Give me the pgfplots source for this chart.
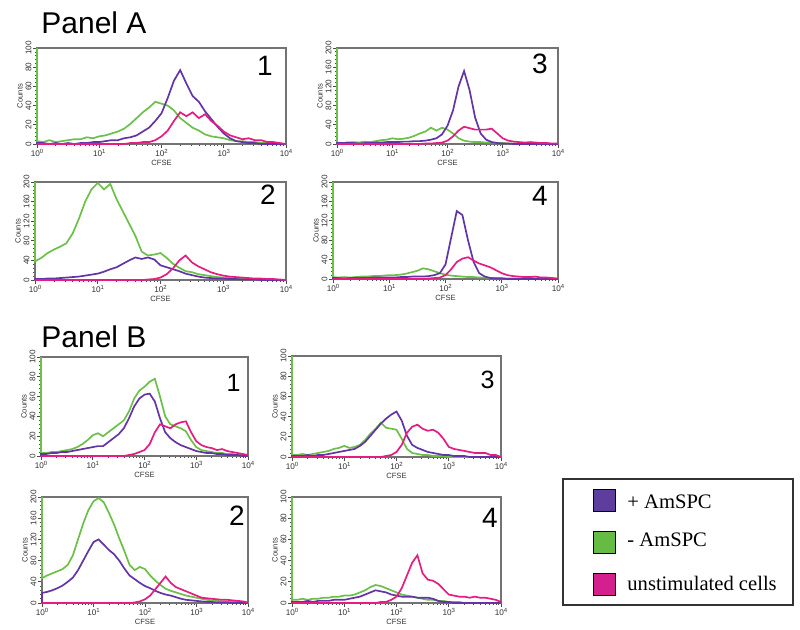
\documentclass[border=0pt]{standalone}
\usepackage{pgfplots}
\pgfplotsset{compat=1.18}
\usepackage{pgfplotstable}
\usepackage{fontspec}
\setmainfont{Liberation Sans}
\newfontfamily\legfont{Liberation Serif}
\definecolor{cpur}{RGB}{98,52,168}
\definecolor{cgrn}{RGB}{108,192,74}
\definecolor{cmag}{RGB}{230,28,128}
\definecolor{lpur}{RGB}{94,61,158}
\definecolor{lgrn}{RGB}{102,187,68}
\definecolor{lmag}{RGB}{212,31,143}
\newcommand\dec[1]{10\raisebox{1.5pt}{\fontsize{3}{3.2}\selectfont #1}}

% columns: e = log10(CFSE channel), p = +AmSPC, g = -AmSPC, m = unstimulated
\pgfplotstableread{
e   p    g    m
0.0 0    100  0
0.0 1    3    0
0.1 1    2    0
0.2 0    4    0
0.3 1    2    0
0.4 0    3    0
0.5 1    4    0
0.6 0    5    0
0.7 1    5    0
0.8 1    7    0
0.9 2    6    0
1.0 2    8    0
1.1 3    9    0
1.2 4    11   0
1.3 4    13   0
1.4 6    16   0
1.5 7    21   1
1.6 9    27   1
1.7 13   33   2
1.8 17   38   2
1.9 24   44   4
2.0 32   42   8
2.1 48   40   14
2.2 66   35   24
2.3 77   27   33
2.4 63   22   29
2.5 50   17   33
2.6 44   14   27
2.7 34   10   31
2.8 26   8    24
2.9 18   7    19
3.0 11   6    13
3.1 6    4    9
3.2 3    3    7
3.3 2    3    5
3.4 1    2    6
3.5 1    2    4
3.6 0    1    4
3.7 0    1    2
3.8 0    1    2
3.9 0    0    1
4.0 0    0    0
}\tAone

\pgfplotstableread{
e   p    g    m
0.0 0    200  0
0.0 2    3    0
0.1 2    2    0
0.2 3    3    0
0.3 2    4    0
0.4 1    3    0
0.5 2    5    0
0.6 2    4    0
0.7 3    6    0
0.8 3    8    0
0.9 4    9    0
1.0 4    12   0
1.1 4    10   0
1.2 5    11   0
1.3 5    13   0
1.4 6    17   0
1.5 6    22   0
1.6 7    26   1
1.7 9    34   1
1.8 12   28   2
1.9 20   34   3
2.0 38   30   7
2.1 70   22   16
2.2 120  12   28
2.3 152  7    36
2.4 112  5    33
2.5 55   4    30
2.6 22   4    30
2.7 9    3    30
2.8 4    3    32
2.9 2    2    22
3.0 1    2    12
3.1 1    1    7
3.2 0    1    5
3.3 0    1    4
3.4 0    0    3
3.5 0    0    4
3.6 0    0    3
3.7 0    0    2
3.8 0    0    2
3.9 0    0    1
4.0 0    0    1
}\tAthree

\pgfplotstableread{
e   p    g    m
0.0 0    200  0
0.0 2    38   0
0.1 2    45   0
0.2 3    55   0
0.3 3    62   0
0.4 4    68   0
0.5 5    75   0
0.6 6    95   0
0.7 7    125  0
0.8 9    160  0
0.9 11   185  0
1.0 13   198  0
1.1 17   185  0
1.2 22   196  0
1.3 26   165  0
1.4 33   140  0
1.5 40   115  0
1.6 46   90   0
1.7 43   58   0
1.8 46   50   1
1.9 42   52   2
2.0 30   55   5
2.1 26   45   12
2.2 22   33   24
2.3 18   25   40
2.4 13   18   50
2.5 10   16   36
2.6 7    12   28
2.7 5    10   22
2.8 4    8    16
2.9 3    6    12
3.0 3    5    9
3.1 2    4    7
3.2 2    3    6
3.3 1    3    5
3.4 1    2    4
3.5 1    2    3
3.6 0    1    3
3.7 0    1    2
3.8 0    1    2
3.9 0    0    1
4.0 0    0    0
}\tAtwo

\pgfplotstableread{
e   p    g    m
0.0 0    200  0
0.0 2    4    0
0.1 2    3    0
0.2 1    4    0
0.3 2    3    0
0.4 2    4    0
0.5 2    5    0
0.6 2    5    0
0.7 3    6    0
0.8 3    6    0
0.9 3    7    0
1.0 3    8    0
1.1 3    8    0
1.2 4    9    0
1.3 4    11   0
1.4 5    14   0
1.5 5    17   0
1.6 5    22   0
1.7 6    20   1
1.8 8    16   2
1.9 12   12   3
2.0 30   9    8
2.1 85   7    20
2.2 140  6    35
2.3 132  5    42
2.4 80   4    45
2.5 35   4    38
2.6 12   3    32
2.7 5    3    28
2.8 2    2    24
2.9 1    2    18
3.0 1    2    12
3.1 0    1    8
3.2 0    1    6
3.3 0    1    5
3.4 0    1    4
3.5 0    1    4
3.6 0    1    5
3.7 0    1    3
3.8 0    0    3
3.9 0    0    2
4.0 0    0    1
}\tAfour

\pgfplotstableread{
e   p    g    m
0.0 0    100  0
0.0 2    3    0
0.1 2    3    0
0.2 3    4    0
0.3 3    4    0
0.4 4    5    0
0.5 4    6    0
0.6 5    7    0
0.7 6    9    0
0.8 7    12   0
0.9 8    16   0
1.0 9    21   0
1.1 10   23   0
1.2 10   20   0
1.3 14   24   0
1.4 18   28   0
1.5 22   32   0
1.6 28   36   0
1.7 38   45   1
1.8 50   58   2
1.9 58   66   4
2.0 62   70   6
2.1 63   75   12
2.2 55   78   24
2.3 38   60   32
2.4 24   40   30
2.5 18   32   28
2.6 14   30   32
2.7 11   28   34
2.8 9    25   35
2.9 7    16   24
3.0 5    9    15
3.1 4    6    11
3.2 3    5    9
3.3 3    4    8
3.4 2    3    6
3.5 2    3    7
3.6 1    2    5
3.7 1    2    4
3.8 1    1    3
3.9 0    1    2
4.0 0    0    1
}\tBone

\pgfplotstableread{
e   p    g    m
0.0 0    100  0
0.0 1    2    0
0.1 1    2    0
0.2 1    3    0
0.3 2    2    0
0.4 1    3    0
0.5 2    4    0
0.6 2    5    0
0.7 3    6    0
0.8 4    8    0
0.9 5    9    0
1.0 6    11   0
1.1 7    9    0
1.2 8    10   0
1.3 11   12   0
1.4 15   17   0
1.5 21   23   0
1.6 27   28   0
1.7 33   34   0
1.8 38   29   1
1.9 42   28   2
2.0 45   27   5
2.1 36   18   12
2.2 21   8    24
2.3 12   4    30
2.4 9    3    32
2.5 7    2    28
2.6 5    2    26
2.7 4    1    27
2.8 3    1    24
2.9 2    1    18
3.0 2    0    10
3.1 1    0    8
3.2 1    0    7
3.3 1    0    6
3.4 0    0    5
3.5 0    0    4
3.6 0    0    4
3.7 0    0    4
3.8 0    0    2
3.9 0    0    2
4.0 0    0    0
}\tBthree

\pgfplotstableread{
e   p    g    m
0.0 0    200  0
0.0 19   47   0
0.1 21   52   0
0.2 24   56   0
0.3 28   60   0
0.4 33   64   0
0.5 40   72   0
0.6 48   90   0
0.7 62   120  0
0.8 80   150  0
0.9 98   175  0
1.0 115  192  0
1.1 120  198  0
1.2 110  190  0
1.3 100  170  0
1.4 92   148  0
1.5 80   122  0
1.6 65   98   0
1.7 52   72   0
1.8 45   62   1
1.9 38   68   3
2.0 32   64   7
2.1 28   52   14
2.2 23   42   26
2.3 19   34   38
2.4 16   27   50
2.5 14   23   38
2.6 11   20   30
2.7 8    17   26
2.8 6    14   22
2.9 5    12   18
3.0 4    10   14
3.1 3    8    10
3.2 2    6    9
3.3 2    5    8
3.4 1    4    7
3.5 1    3    6
3.6 1    3    6
3.7 0    2    5
3.8 0    2    4
3.9 0    1    3
4.0 0    0    1
}\tBtwo

\pgfplotstableread{
e   p    g    m
0.0 0    100  0
0.0 1    3    0
0.1 1    3    0
0.2 1    4    0
0.3 2    3    0
0.4 1    4    0
0.5 2    4    0
0.6 2    5    0
0.7 2    5    0
0.8 3    6    0
0.9 3    6    0
1.0 3    7    0
1.1 4    7    0
1.2 5    8    0
1.3 6    10   0
1.4 8    12   0
1.5 10   15   0
1.6 12   17   0
1.7 11   16   1
1.8 10   14   1
1.9 8    12   3
2.0 7    10   6
2.1 6    8    14
2.2 6    7    26
2.3 6    6    38
2.4 5    5    45
2.5 5    4    28
2.6 5    3    22
2.7 4    3    21
2.8 2    2    18
2.9 1    2    13
3.0 1    1    8
3.1 0    1    7
3.2 0    1    6
3.3 0    0    6
3.4 0    0    5
3.5 0    0    6
3.6 0    0    5
3.7 0    0    5
3.8 0    0    4
3.9 0    0    3
4.0 0    0    1
}\tBfour

\pgfplotsset{facs/.style={
  xmin=1, xmax=10000, ymin=0,
  scale only axis, clip=false,
  /pgf/number format/assume math mode=true,
  axis line style={draw=black!55, line width=0.6pt},
  tick pos=left,
  tick align=outside, major tick length=1.8pt, minor tick length=1.1pt,
  tick style={black!70, line width=0.35pt},
  xtick={1,10,100,1000,10000},
  xticklabels={\dec{0},\dec{1},\dec{2},\dec{3},\dec{4}},
  tick label style={font=\fontsize{4.1}{4.5}\selectfont, inner sep=0.8pt, text=black!80},
  yticklabel style={rotate=90, anchor=south},
  label style={font=\fontsize{3.8}{4.2}\selectfont, inner sep=0.5pt, text=black!80},
  xlabel={CFSE}, ylabel={Counts},
  minor y tick num=4,
}}
\newcommand\facsplots[1]{%
  \addplot[cgrn, line width=0.85pt] table[x expr={10^\thisrow{e}}, y=g]{#1};
  \addplot[cpur, line width=0.85pt] table[x expr={10^\thisrow{e}}, y=p]{#1};
  \addplot[cmag, line width=0.85pt] table[x expr={10^\thisrow{e}}, y=m]{#1};
}

\begin{document}
\begin{tikzpicture}
\useasboundingbox (0,0) rectangle (400pt,-314.5pt);

% Panel titles
\node[anchor=base west, inner sep=0, font=\fontsize{15}{16}\selectfont] at (20.5pt,-16.75pt) {Panel A};
\node[anchor=base west, inner sep=0, font=\fontsize{15}{16}\selectfont] at (20.5pt,-173.5pt) {Panel B};

% A1
\begin{semilogxaxis}[facs, at={(18.5pt,-72pt)}, anchor=south west, width=124.5pt, height=48pt,
  ymax=100, ytick={0,20,...,100}]
  \facsplots{\tAone}
\end{semilogxaxis}
% A3
\begin{semilogxaxis}[facs, at={(168.5pt,-72pt)}, anchor=south west, width=110.5pt, height=48pt,
  ymax=200, ytick={0,40,...,200}]
  \facsplots{\tAthree}
\end{semilogxaxis}
% A2
\begin{semilogxaxis}[facs, at={(17.5pt,-140pt)}, anchor=south west, width=125.5pt, height=49pt,
  ymax=200, ytick={0,40,...,200}]
  \facsplots{\tAtwo}
\end{semilogxaxis}
% A4
\begin{semilogxaxis}[facs, at={(166.5pt,-139.5pt)}, anchor=south west, width=112.5pt, height=48.5pt,
  ymax=200, ytick={0,40,...,200}]
  \facsplots{\tAfour}
\end{semilogxaxis}
% B1
\begin{semilogxaxis}[facs, at={(20.5pt,-228pt)}, anchor=south west, width=103.5pt, height=49.5pt,
  ymax=100, ytick={0,20,...,100}]
  \facsplots{\tBone}
\end{semilogxaxis}
% B3
\begin{semilogxaxis}[facs, at={(146pt,-228.5pt)}, anchor=south west, width=104.5pt, height=50.5pt,
  ymax=100, ytick={0,20,...,100}]
  \facsplots{\tBthree}
\end{semilogxaxis}
% B2
\begin{semilogxaxis}[facs, at={(21pt,-301.5pt)}, anchor=south west, width=103pt, height=53pt,
  ymax=200, ytick={0,40,...,200}]
  \facsplots{\tBtwo}
\end{semilogxaxis}
% B4
\begin{semilogxaxis}[facs, at={(146pt,-301.5pt)}, anchor=south west, width=104.5pt, height=53pt,
  ymax=100, ytick={0,20,...,100}]
  \facsplots{\tBfour}
\end{semilogxaxis}

% panel numbers
\begin{scope}[every node/.style={inner sep=0, font=\fontsize{14}{15}\selectfont}]
\node[anchor=base east] at (136.5pt,-37.5pt) {1};
\node[anchor=base east] at (274pt,-36.5pt) {3};
\node[anchor=base east] at (138pt,-102pt) {2};
\node[anchor=base east] at (274pt,-102.5pt) {4};
\node[anchor=base east, font=\fontsize{12.5}{13}\selectfont] at (120.5pt,-195.5pt) {1};
\node[anchor=base east, font=\fontsize{12.5}{13}\selectfont] at (247.5pt,-194pt) {3};
\node[anchor=base east] at (122.5pt,-262.5pt) {2};
\node[anchor=base east] at (249pt,-263.5pt) {4};
\end{scope}

% legend
\draw[black!80, line width=0.7pt] (281.5pt,-239.5pt) rectangle (396.5pt,-302.5pt);
\draw[black, line width=0.5pt, fill=lpur] (296.5pt,-244.5pt) rectangle (307.5pt,-255.5pt);
\draw[black, line width=0.5pt, fill=lgrn] (296.5pt,-265.5pt) rectangle (307.5pt,-276.5pt);
\draw[black, line width=0.5pt, fill=lmag] (296.5pt,-286.5pt) rectangle (307.5pt,-297.5pt);
\begin{scope}[every node/.style={anchor=west, inner sep=0, font=\legfont\fontsize{10.3}{11}\selectfont}]
\node at (313.5pt,-251pt) {+ AmSPC};
\node at (313.5pt,-270pt) {- AmSPC};
\node at (313.5pt,-291.5pt) {unstimulated cells};
\end{scope}
\end{tikzpicture}
\end{document}
